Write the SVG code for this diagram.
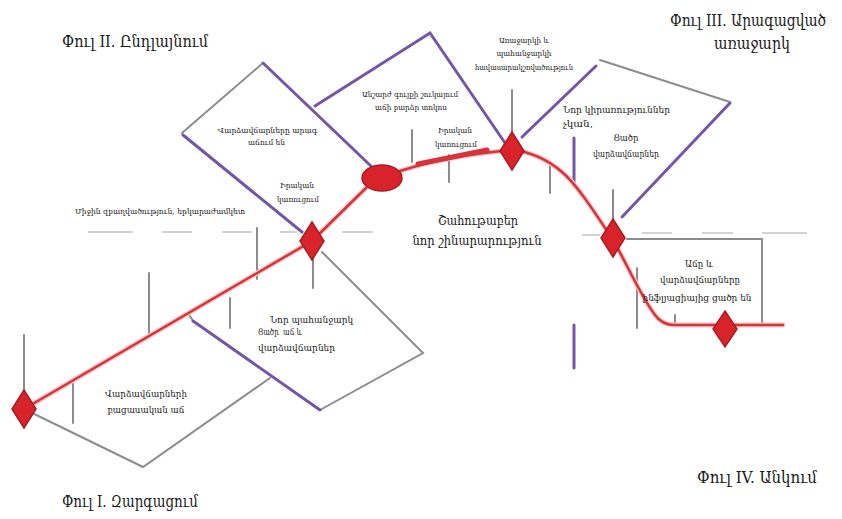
<svg xmlns="http://www.w3.org/2000/svg" width="842" height="519" viewBox="0 0 842 519">
<style>
.g{stroke:#8c8c8c;stroke-width:2;fill:none;stroke-linecap:round}
.p{stroke:#7356a6;stroke-width:3;fill:none;stroke-linecap:round}
.d{stroke:#d2d2d2;stroke-width:2;fill:none}
.halo{stroke:#f6c6c8;stroke-width:5;fill:none;stroke-linecap:round;stroke-linejoin:round}
.red{stroke:#d8323a;stroke-width:2.5;fill:none;stroke-linecap:round;stroke-linejoin:round}
.node{fill:#d9232b;stroke:#a81d23;stroke-width:1.5}
.t{font-family:"DejaVu Serif","Liberation Serif",serif;fill:#1a1a1a}
.title{font-size:17px}
.s{font-size:8px}
.m{font-size:9.5px}
.l{font-size:13.5px}
.c{text-anchor:middle}
</style>
<rect width="842" height="519" fill="#ffffff"/>
<g id="connectors">
<g id="dashes">
<path class="d" d="M88,232H133M162,232H192M222,232H252M280,232H297M342,232H373M582,235H600M642,233H672M702,233H733M762,233H807"/>
</g>
<g id="gray-lines">
<path class="g" d="M24,409L143,467L270,378"/>
<path class="g" d="M188,313L193,321"/>
<path class="g" d="M24,335V392M73,383V423M149,273V337M230,298V328M257,228V279M313,258V288"/>
<path class="g" d="M322,252L423,353L320,410"/>
<path class="g" d="M182,133L263,63"/>
<path class="g" d="M412,130V162M449,155V182M512,90V133M550,165V193M613,190V220"/>
<path class="g" d="M600,60L730,102"/>
<path class="g" d="M627,239H762V325M637,268V328M675,315V325"/>
</g>
<g id="purple-lines">
<path class="p" d="M263,63L372,167"/>
<path class="p" d="M183,135L302,232"/>
<path class="p" d="M315,106L430,33L505,143"/>
<path class="p" d="M522,137L596,66"/>
<path class="p" d="M730,103L622,217"/>
<path class="p" d="M193,321L320,410"/>
<path class="p" d="M574,138V185M574,325V368"/>
</g>
<g id="cycle-curve">
<path class="halo" d="M24,409L312,241L366,188M400,171Q450,155 513,150C530,152 548,160 562,172S590,205 613,240C625,260 640,295 655,315Q662,325 675,325L783,325"/>
<path class="red" d="M24,409L312,241L366,188M400,171Q450,155 513,150C530,152 548,160 562,172S590,205 613,240C625,260 640,295 655,315Q662,325 675,325L783,325"/>
<path d="M418,164L487,150" stroke="#d8323a" stroke-width="5" stroke-linecap="round"/>
</g>
</g>
<g id="node-start"><polygon class="node" points="24,390 36,409 24,428 12,409"/></g>
<g id="node-expansion"><polygon class="node" points="312,222 324,241 312,260 300,241"/></g>
<g id="node-peak-growth"><ellipse class="node" cx="382" cy="178" rx="20" ry="13"/></g>
<g id="node-balance"><polygon class="node" points="512,132 524,151 512,170 500,151"/></g>
<g id="node-oversupply"><polygon class="node" points="613,219 625,238 613,257 601,238"/></g>
<g id="node-decline"><polygon class="node" points="725,311 737,329 725,347 713,329"/></g>
<g id="titles">
<text class="t title" x="62" y="47" textLength="146" lengthAdjust="spacingAndGlyphs">Փուլ II. Ընդլայնում</text>
<text class="t c" x="748" y="26" font-size="16" textLength="156" lengthAdjust="spacingAndGlyphs">Փուլ III. Արագացված</text>
<text class="t title c" x="752" y="49" textLength="76" lengthAdjust="spacingAndGlyphs">առաջարկ</text>
<text class="t title" x="62" y="507" textLength="136" lengthAdjust="spacingAndGlyphs">Փուլ I. Զարգացում</text>
<text class="t title" x="697" y="483" textLength="120" lengthAdjust="spacingAndGlyphs">Փուլ IV. Անկում</text>
</g>
<g id="labels">
<g id="label-rents-rise">
<text class="t s" x="218" y="133" textLength="99" lengthAdjust="spacingAndGlyphs">Վարձավճարները արագ</text>
<text class="t s" x="248" y="145" textLength="37" lengthAdjust="spacingAndGlyphs">աճում են</text>
</g>
<g id="label-construction-1">
<text class="t s c" x="297" y="188" textLength="34" lengthAdjust="spacingAndGlyphs">Իրական</text>
<text class="t s c" x="298" y="202" textLength="42" lengthAdjust="spacingAndGlyphs">կառուցում</text>
</g>
<g id="label-occupancy">
<text class="t s" x="75" y="214" textLength="170" lengthAdjust="spacingAndGlyphs">Միջին զբաղվածություն, երկարաժամկետ</text>
</g>
<g id="label-high-growth">
<text class="t s" x="362" y="97" textLength="96" lengthAdjust="spacingAndGlyphs">Անշարժ գույքի շուկայում</text>
<text class="t s" x="375" y="110" textLength="72" lengthAdjust="spacingAndGlyphs">աճի բարձր տոկոս</text>
</g>
<g id="label-construction-2">
<text class="t s c" x="455" y="133" textLength="34" lengthAdjust="spacingAndGlyphs">Իրական</text>
<text class="t s c" x="456" y="147" textLength="42" lengthAdjust="spacingAndGlyphs">կառուցում</text>
</g>
<g id="label-balance">
<text class="t s c" x="524" y="43" textLength="50" lengthAdjust="spacingAndGlyphs">Առաջարկի և</text>
<text class="t s c" x="524" y="56" textLength="55" lengthAdjust="spacingAndGlyphs">պահանջարկի</text>
<text class="t s c" x="524" y="70" textLength="98" lengthAdjust="spacingAndGlyphs">հավասարակշռվածություն</text>
</g>
<g id="label-no-new-uses">
<text class="t m" x="563" y="113" textLength="107" lengthAdjust="spacingAndGlyphs">Նոր կիրառություններ</text>
<text class="t m" x="563" y="127" textLength="30" lengthAdjust="spacingAndGlyphs">չկան,</text>
<text class="t m c" x="626" y="141" textLength="25" lengthAdjust="spacingAndGlyphs">Ցածր</text>
<text class="t m c" x="626" y="157" textLength="66" lengthAdjust="spacingAndGlyphs">վարձավճարներ</text>
</g>
<g id="label-profitable">
<text class="t l c" x="478" y="225" textLength="80" lengthAdjust="spacingAndGlyphs">Շահութաբեր</text>
<text class="t l c" x="477" y="245" textLength="129" lengthAdjust="spacingAndGlyphs">նոր շինարարություն</text>
</g>
<g id="label-below-inflation">
<text class="t m c" x="699" y="267" textLength="28" lengthAdjust="spacingAndGlyphs">Աճը և</text>
<text class="t m c" x="700" y="283" textLength="80" lengthAdjust="spacingAndGlyphs">վարձավճարները</text>
<text class="t m c" x="697" y="301" textLength="109" lengthAdjust="spacingAndGlyphs">ինֆլյացիայից ցածր են</text>
</g>
<g id="label-new-demand">
<text class="t m" x="270" y="323" textLength="83" lengthAdjust="spacingAndGlyphs">Նոր պահանջարկ</text>
<text class="t m" x="258" y="335" textLength="44" lengthAdjust="spacingAndGlyphs" xml:space="preserve">Ցածր  աճ և</text>
<text class="t m" x="258" y="351" textLength="77" lengthAdjust="spacingAndGlyphs">վարձավճարներ</text>
</g>
<g id="label-negative-growth">
<text class="t m c" x="146" y="397" textLength="82" lengthAdjust="spacingAndGlyphs">Վարձավճարների</text>
<text class="t m c" x="146" y="413" textLength="77" lengthAdjust="spacingAndGlyphs">բացասական աճ</text>
</g>
</g>
</svg>
